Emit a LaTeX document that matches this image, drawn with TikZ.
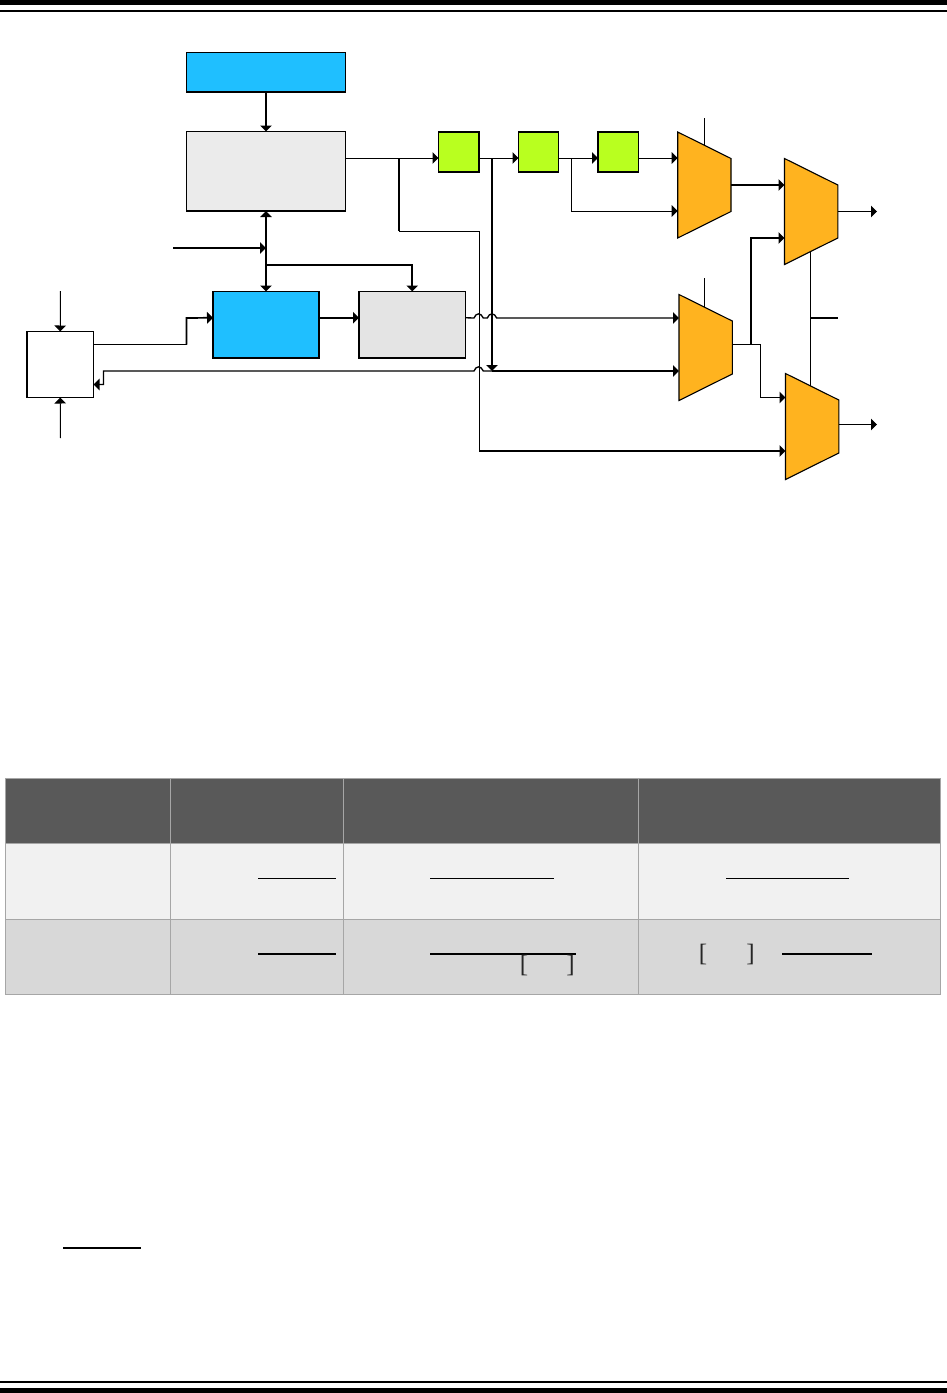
\documentclass[tikz,border=0pt]{standalone}
\usepackage{fontspec}
\setmainfont{Liberation Serif}
\usetikzlibrary{arrows.meta,calc}
\definecolor{bluebox}{HTML}{1FBFFF}
\definecolor{greybox}{HTML}{EBEBEB}
\definecolor{greyboxb}{HTML}{E4E4E4}
\definecolor{greenbox}{HTML}{B9FF1F}
\definecolor{muxorange}{HTML}{FFB31F}
\definecolor{headfill}{HTML}{595959}
\definecolor{rowa}{HTML}{F1F1F1}
\definecolor{rowb}{HTML}{D8D8D8}
\definecolor{gridline}{HTML}{A6A6A6}
\tikzset{
  blk/.style={rectangle,inner sep=0pt,outer sep=0pt},
  boxthin/.style={blk,draw=black,line width=1.1pt},
  boxthick/.style={blk,draw=black,line width=1.5pt},
  cellbox/.style={blk,draw=gridline,line width=1pt},
  muxghost/.style={blk,minimum width=53.3pt,minimum height=106pt},
  muxshape/.style={draw=black,fill=muxorange,line width=1.1pt,line join=miter},
  thinw/.style={draw=black,line width=1pt},
  midw/.style={draw=black,line width=1.35pt},
  thickw/.style={draw=black,line width=1.7pt},
  arr/.style={-{Triangle[width=11.5pt,length=6pt]}},
  darr/.style={{Triangle[width=11.5pt,length=6pt]}-{Triangle[width=11.5pt,length=6pt]}},
  bar/.style={fill=black},
  fracline/.style={draw=black,line width=1.2pt},
  fraclineb/.style={draw=black,line width=2pt},
  brk/.style={inner sep=0pt,outer sep=0pt,font=\fontsize{25}{25}\selectfont,text=black!85}
}
\newcommand{\blk}[6]{% style, name, x0,y0,x1,y1
  \pgfmathsetmacro{\bw}{#5-#3}\pgfmathsetmacro{\bh}{#6-#4}%
  \pgfmathsetmacro{\bx}{(#5+#3)/2}\pgfmathsetmacro{\by}{(#6+#4)/2}%
  \node[#1,minimum width=\bw pt,minimum height=\bh pt] (#2) at (\bx,\by) {};}
\newcommand{\muxblock}[3]{% name, west x, top y
  \pgfmathsetmacro{\bx}{#2+26.65}\pgfmathsetmacro{\by}{#3+53}%
  \node[muxghost] (#1) at (\bx,\by) {};
  \draw[muxshape] (#1.north west) -- ($(#1.north east)+(0,26.5)$) -- ($(#1.south east)+(0,-26.5)$) -- (#1.south west) -- cycle;}
\begin{document}
\begin{tikzpicture}[x=1pt,y=-1pt]
\useasboundingbox (0,0) rectangle (947,1393);
% page bars
\fill[bar] (0,0) rectangle (947,5);
\fill[bar] (0,9.8) rectangle (947,12);
\fill[bar] (0,1380.7) rectangle (947,1383);
\fill[bar] (0,1388) rectangle (947,1393);
% blocks
\blk{boxthin,fill=bluebox}{top}{186.5}{52.5}{345.5}{92}
\blk{boxthin,fill=greybox}{main}{186.5}{131.5}{345.5}{211}
\blk{boxthick,fill=bluebox}{blue}{213}{291.5}{319}{358}
\blk{boxthin,fill=greyboxb}{grey}{359}{291.5}{465.5}{358}
\blk{boxthin,fill=white}{left}{27}{331.5}{93.5}{397.5}
\blk{boxthick,fill=greenbox}{ga}{438.5}{132}{479}{172}
\blk{boxthick,fill=greenbox}{gb}{518.5}{132}{558.5}{172}
\blk{boxthick,fill=greenbox}{gc}{598}{132}{638.5}{172}
% connectors behind the multiplexers
\coordinate (sela) at (704.5,118);
\coordinate (selb) at (704.5,278);
\coordinate (selc) at (810.5,252);
\coordinate (seld) at (810.5,386);
\coordinate (selout) at (838,318);
\coordinate (selj) at (810.5,318);
\draw[thinw] (sela) -- (704.5,146);
\draw[thinw] (selb) -- (704.5,307);
\draw[thinw] (selc) -- (seld);
\draw[thickw] (selj) -- (selout);
% multiplexers
\muxblock{ma}{677.7}{132}
\muxblock{mb}{784.5}{158.5}
\muxblock{mc}{679}{294.5}
\muxblock{md}{785.5}{373.5}
% vertical connectors
\draw[thickw,arr] (top.south) -- (main.north);
\draw[thickw,darr] (main.south) -- (blue.north);
\coordinate (ctl) at (173,248);
\coordinate (ctlj) at (266,248);
\draw[thickw,arr] (ctl) -- (ctlj);
\coordinate (busj) at (266,265);
\draw[thickw,arr] (busj) -| (grey.north);
\draw[thickw,arr] (blue.west -| blue.east) ++(0,-7) -- ($(grey.west)+(0,-7)$);
\coordinate (inup) at (60.5,291);
\coordinate (indn) at (60.5,438);
\draw[thinw,arr] (inup) -- (left.north);
\draw[thinw,arr] (indn) -- (left.south);
\coordinate (bend) at (186.5,344.5);
\draw[thinw] ($(left.north east)+(0,13)$) -- (bend);
\draw[thickw,arr] (bend) -- (186.5,318) -- ($(blue.west)+(0,-7)$);
% main output and green chain
\coordinate (ja) at (399,158);
\coordinate (jb) at (492,158);
\coordinate (jc) at (571.5,158);
\draw[thinw,arr] ($(main.north east)+(0,26.5)$) -- ($(ga.north west)+(0,26)$);
\draw[thinw,arr] ($(ga.north east)+(0,26)$) -- ($(gb.north west)+(0,26)$);
\draw[thinw,arr] ($(gb.north east)+(0,26)$) -- ($(gc.north west)+(0,26)$);
\draw[thinw,arr] ($(gc.north east)+(0,26)$) -- ($(ma.north west)+(0,26)$);
\draw[thinw,arr] (jc) -- (571.5,211) -- ($(ma.south west)+(0,-27)$);
% long bypass
\coordinate (byb) at (479,231);
\coordinate (byc) at (479,451);
\draw[thickw] (ja) -- (399,231);
\draw[thinw] (399,231) -- (byb) -- (byc);
\draw[thickw,arr] (byc) -- ($(md.south west)+(0,-28.5)$);
% grey block output with hops
\draw[midw,arr] ($(grey.east)+(0,-7)$) -- (474,318) .. controls (476,312.5) and (481,312.5) .. (483.3,318) -- (487.3,318) .. controls (489.3,312.5) and (494.5,312.5) .. (496.7,318) -- ($(mc.north west)+(0,23.5)$);
% tap to mux c and return to left block
\coordinate (tap) at (492,371);
\draw[thickw,arr] (jb) -- (tap);
\draw[midw,arr] (tap) -- ($(mc.south west)+(0,-29.5)$);
\draw[midw,arr] (tap) -- (483.3,371) .. controls (481,365.5) and (476,365.5) .. (474,371) -- (103.5,371) -- (103.5,384.5) -- ($(left.south east)+(0,-13)$);
% mux outputs
\draw[thickw,arr] (ma.east) -- ($(mb.north west)+(0,26.5)$);
\coordinate (outa) at (877,211.5);
\coordinate (outb) at (877,424.5);
\draw[thinw,arr] (mb.east) -- (outa);
\draw[thinw,arr] ($(md.east)+(0,-2)$) -- (outb);
\coordinate (mj) at (751,344.5);
\coordinate (mk) at (760.5,344.5);
\draw[thinw] ($(mc.east)+(0,-3)$) -- (mk);
\draw[midw,arr] (mj) -- (751,238) -- ($(mb.south west)+(0,-26.5)$);
\draw[midw,arr] (mk) -- (760.5,397.5) -- ($(md.north west)+(0,24)$);
% table
\blk{cellbox,fill=headfill}{ha}{5.5}{778.5}{170.5}{843.5}
\blk{cellbox,fill=headfill}{hb}{170.5}{778.5}{343.5}{843.5}
\blk{cellbox,fill=headfill}{hc}{343.5}{778.5}{638.5}{843.5}
\blk{cellbox,fill=headfill}{hd}{638.5}{778.5}{940.5}{843.5}
\blk{cellbox,fill=rowa}{aa}{5.5}{843.5}{170.5}{919.5}
\blk{cellbox,fill=rowa}{ab}{170.5}{843.5}{343.5}{919.5}
\blk{cellbox,fill=rowa}{ac}{343.5}{843.5}{638.5}{919.5}
\blk{cellbox,fill=rowa}{ad}{638.5}{843.5}{940.5}{919.5}
\blk{cellbox,fill=rowb}{ba}{5.5}{919.5}{170.5}{994}
\blk{cellbox,fill=rowb}{bb}{170.5}{919.5}{343.5}{994}
\blk{cellbox,fill=rowb}{bc}{343.5}{919.5}{638.5}{994}
\blk{cellbox,fill=rowb}{bd}{638.5}{919.5}{940.5}{994}
% fraction bars
\draw[fracline] (258,878.3) -- (336,878.3);
\draw[fracline] (430,878.3) -- (554,878.3);
\draw[fracline] (726,878.3) -- (849,878.3);
\draw[fraclineb] (258,953.7) -- (336,953.7);
\draw[fraclineb] (430,953.7) -- (576,953.7);
\draw[fraclineb] (782,953.7) -- (872,953.7);
% brackets
\node[brk] (bka) at (524,965.5) {[};
\node[brk] (bkb) at (570.5,965.5) {]};
\node[brk] (bkc) at (703,954) {[};
\node[brk] (bkd) at (750.5,954) {]};
% isolated rule
\draw[fraclineb] (63,1247.7) -- (141,1247.7);
\end{tikzpicture}
\end{document}
